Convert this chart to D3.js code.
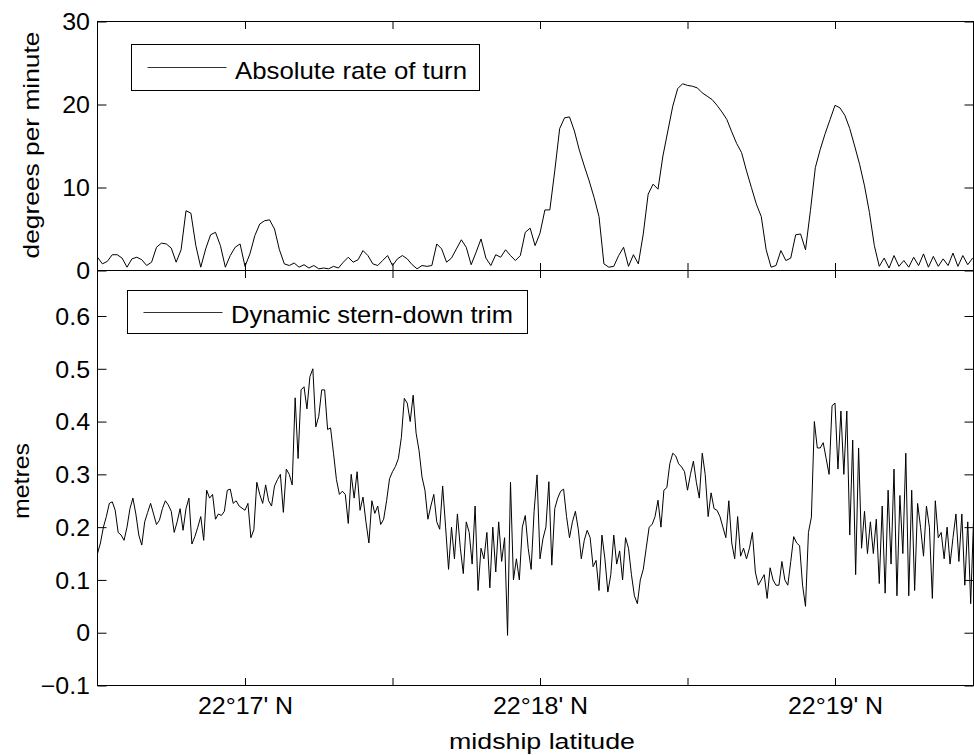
<!DOCTYPE html>
<html><head><meta charset="utf-8">
<script src="https://cdn.jsdelivr.net/npm/d3@7"></script>
<style>
body{margin:0;background:#fff}
svg{display:block}
text{font-family:"Liberation Sans",Arial,Helvetica,sans-serif;fill:#000}
</style>
</head><body>
<svg id="c" width="974" height="755"></svg>
<script>
// ---- data ----
const latStartMin = 16.5;          // minutes past 22°
const turnStepMin = 1 / 60;        // one sample per arc-second
const trimStepMin = 0.01;          // one sample per 0.6 arc-second
const turnVals = [
1.6,0.8,1.1,1.9,1.9,1.5,0.4,1.4,1.6,1.3,
0.6,1.0,2.8,3.3,3.2,2.7,1.0,2.5,7.2,6.9,
3.0,0.4,2.6,4.3,4.6,3.0,0.4,1.8,2.8,3.2,
0.5,2.0,4.2,5.6,6.0,6.1,5.0,2.5,0.8,0.6,
0.9,0.4,0.7,0.3,0.6,0.2,0.3,0.2,0.5,0.3,
1.0,1.6,1.0,1.3,2.4,1.8,0.8,0.6,1.2,1.8,
0.6,1.4,1.8,1.4,0.7,0.2,0.6,0.5,0.6,3.2,
2.6,1.0,1.5,2.6,3.7,2.8,0.7,2.2,3.8,1.5,
0.6,1.9,1.6,2.5,1.8,1.2,1.8,4.6,5.1,3.0,
4.5,7.3,7.3,12.0,17.1,18.4,18.5,16.8,14.5,12.6,
10.8,8.8,6.5,0.8,0.4,0.5,1.8,2.8,0.5,1.9,
0.8,4.4,9.2,10.4,9.8,13.8,16.8,19.8,21.9,22.5,
22.3,22.2,22.0,21.4,21.0,20.6,19.9,19.1,18.2,16.7,
15.3,14.2,12.0,10.0,8.0,6.5,2.5,0.4,0.6,2.4,
1.2,1.5,4.3,4.4,2.5,7.2,12.4,14.6,16.5,18.2,
19.9,19.6,18.7,17.1,15.0,12.8,10.2,7.0,3.0,0.5,
1.5,0.3,1.8,0.5,1.2,0.4,1.6,0.6,2.0,0.4,1.7,0.5,1.4,0.6,2.1,0.5,1.8,0.7,1.5
];
const trimVals = [
0.15,0.17,0.20,0.22,0.245,0.248,0.232,0.19,0.185,0.175,
0.20,0.235,0.255,0.225,0.185,0.166,0.21,0.228,0.245,0.225,
0.205,0.213,0.235,0.25,0.242,0.23,0.19,0.21,0.235,0.194,
0.235,0.255,0.168,0.182,0.2,0.22,0.175,0.27,0.255,0.262,
0.215,0.225,0.222,0.23,0.27,0.272,0.245,0.25,0.24,0.236,
0.232,0.245,0.18,0.195,0.285,0.262,0.245,0.28,0.25,0.24,
0.278,0.29,0.30,0.228,0.31,0.30,0.28,0.445,0.33,0.46,
0.466,0.424,0.485,0.50,0.39,0.41,0.46,0.46,0.385,0.388,
0.34,0.29,0.262,0.268,0.262,0.207,0.30,0.255,0.305,0.232,
0.257,0.21,0.17,0.25,0.226,0.24,0.205,0.215,0.25,0.292,
0.305,0.315,0.33,0.37,0.444,0.435,0.40,0.45,0.378,0.345,
0.295,0.27,0.215,0.24,0.262,0.21,0.196,0.278,0.2,0.12,
0.20,0.14,0.225,0.16,0.112,0.21,0.19,0.13,0.24,0.08,
0.16,0.14,0.19,0.085,0.20,0.115,0.21,0.135,0.18,-0.005,
0.285,0.10,0.14,0.10,0.20,0.222,0.16,0.12,0.23,0.299,
0.14,0.178,0.20,0.286,0.128,0.235,0.255,0.268,0.272,0.22,
0.18,0.21,0.23,0.195,0.14,0.175,0.194,0.18,0.125,0.137,
0.08,0.185,0.14,0.077,0.11,0.185,0.13,0.155,0.10,0.18,
0.16,0.11,0.07,0.055,0.10,0.12,0.16,0.20,0.205,0.22,
0.251,0.20,0.27,0.275,0.32,0.34,0.335,0.32,0.314,0.305,
0.27,0.30,0.325,0.285,0.255,0.34,0.30,0.22,0.265,0.235,
0.232,0.22,0.20,0.18,0.25,0.17,0.14,0.22,0.145,0.16,
0.14,0.16,0.19,0.115,0.09,0.10,0.11,0.065,0.123,0.10,
0.09,0.09,0.135,0.10,0.09,0.135,0.182,0.17,0.165,0.09,
0.05,0.19,0.219,0.40,0.35,0.35,0.36,0.33,0.30,0.43,
0.435,0.31,0.42,0.30,0.42,0.185,0.365,0.11,0.35,0.16,
0.23,0.15,0.21,0.15,0.215,0.093,0.24,0.075,0.27,0.13,
0.31,0.07,0.26,0.15,0.34,0.07,0.27,0.08,0.245,0.20,
0.145,0.24,0.20,0.065,0.25,0.18,0.19,0.14,0.20,0.13,
0.18,0.225,0.135,0.225,0.09,0.21,0.055,0.22
];
const xTickMinutes = [17, 17.5, 18, 18.5, 19];
const xTickLabels = ["22°17' N", "", "22°18' N", "", "22°19' N"];
const turnTicks = [0, 10, 20, 30];
const trimTicks = [-0.1, 0, 0.1, 0.2, 0.3, 0.4, 0.5, 0.6];
const turnLabel = "degrees per minute";
const trimLabel = "metres";
const xLabel = "midship latitude";
const turnLegend = "Absolute rate of turn";
const trimLegend = "Dynamic stern-down trim";

// ---- layout ----
const L = 97.5, R = 973.5;
const topY0 = 21.5, midY = 270.5, botY = 685.5;
const svg = d3.select("#c");

const x = d3.scaleLinear().domain([latStartMin, latStartMin + (R - L) / 295]).range([L, R]);
const yTurn = d3.scaleLinear().domain([0, 30]).range([midY, topY0]);
const yTrim = d3.scaleLinear().domain([-0.1, 0.6862]).range([botY, midY]);

function stretch(sel, k) {
  sel.each(function () {
    const w = this.getComputedTextLength();
    d3.select(this).attr("textLength", w * k).attr("lengthAdjust", "spacingAndGlyphs");
  });
}

function panel(y, yTop, yBot, ticks, fmt, showXLabels, vals, step, id) {
  const g = svg.append("g");
  svg.append("clipPath").attr("id", id).append("rect")
    .attr("x", L).attr("y", yTop).attr("width", R - L).attr("height", yBot - yTop);

  // data line
  const line = d3.line().x((d, i) => x(latStartMin + i * step)).y(d => y(d));
  g.append("path").datum(vals).attr("clip-path", `url(#${id})`)
    .attr("fill", "none").attr("stroke", "#000").attr("stroke-width", 1)
    .attr("stroke-linejoin", "miter").attr("d", line);

  // axes with inward ticks
  const ax = (a, t) => { a.selectAll(".domain").remove(); a.selectAll("line").attr("stroke", "#000"); return a; };
  const left = g.append("g").attr("transform", `translate(${L},0)`)
    .call(d3.axisLeft(y).tickValues(ticks).tickSize(-9).tickPadding(7.5).tickFormat(fmt));
  ax(left);
  left.selectAll("text").attr("font-size", 23).attr("font-family", '"Liberation Sans",Arial,sans-serif')
    .attr("dy", "0.36em").attr("fill", "#000");
  stretch(left.selectAll("text"), 1.085);
  ax(g.append("g").attr("transform", `translate(${R},0)`)
    .call(d3.axisRight(y).tickValues(ticks).tickSize(-9).tickFormat("")));
  ax(g.append("g").attr("transform", `translate(0,${yTop})`)
    .call(d3.axisTop(x).tickValues(xTickMinutes).tickSize(-7.5).tickFormat("")));
  const bottom = g.append("g").attr("transform", `translate(0,${yBot})`)
    .call(d3.axisBottom(x).tickValues(xTickMinutes).tickSize(-7.5).tickPadding(12.2)
      .tickFormat(showXLabels ? ((d, i) => xTickLabels[i]) : ""));
  ax(bottom);
  bottom.selectAll("text").attr("font-size", 23).attr("font-family", '"Liberation Sans",Arial,sans-serif').attr("fill", "#000");
  if (showXLabels) stretch(bottom.selectAll("text").filter(function () { return this.textContent.length > 0; }), 1.085);

  // box
  g.append("rect").attr("x", L).attr("y", yTop).attr("width", R - L).attr("height", yBot - yTop)
    .attr("fill", "none").attr("stroke", "#000").attr("stroke-width", 1);
  return g;
}

panel(yTurn, topY0, midY, turnTicks, d3.format("d"), false, turnVals, turnStepMin, "clipTurn");
panel(yTrim, midY, botY, trimTicks, d => d3.format(".1f")(d).replace("0.0", "0").replace("-0.1", "-0.1"), true, trimVals, trimStepMin, "clipTrim");

// legends
function legend(bx, by, bw, bh, lx1, lx2, ly, tx, tb, label, tw) {
  const g = svg.append("g");
  g.append("rect").attr("x", bx).attr("y", by).attr("width", bw).attr("height", bh)
    .attr("fill", "#fff").attr("stroke", "#000").attr("stroke-width", 1);
  g.append("line").attr("x1", lx1).attr("x2", lx2).attr("y1", ly).attr("y2", ly)
    .attr("stroke", "#333").attr("stroke-width", 1);
  g.append("text").attr("x", tx).attr("y", tb).attr("font-size", 24)
    .attr("textLength", tw).attr("lengthAdjust", "spacingAndGlyphs").text(label);
}
legend(131.5, 44.5, 348, 46, 147.5, 226.5, 67.5, 235, 79, turnLegend, 232);
legend(127.5, 290.5, 400, 43, 143.5, 222.5, 312.5, 231, 323, trimLegend, 282);

// axis labels
svg.append("text").attr("transform", "translate(39,145) rotate(-90)").attr("text-anchor", "middle")
  .attr("font-size", 22).attr("textLength", 227).attr("lengthAdjust", "spacingAndGlyphs").text(turnLabel);
svg.append("text").attr("transform", "translate(28.5,481) rotate(-90)").attr("text-anchor", "middle")
  .attr("font-size", 22).attr("textLength", 76).attr("lengthAdjust", "spacingAndGlyphs").text(trimLabel);
svg.append("text").attr("x", 542).attr("y", 749.3).attr("text-anchor", "middle")
  .attr("font-size", 22).attr("textLength", 186).attr("lengthAdjust", "spacingAndGlyphs").text(xLabel);
</script>
</body></html>
